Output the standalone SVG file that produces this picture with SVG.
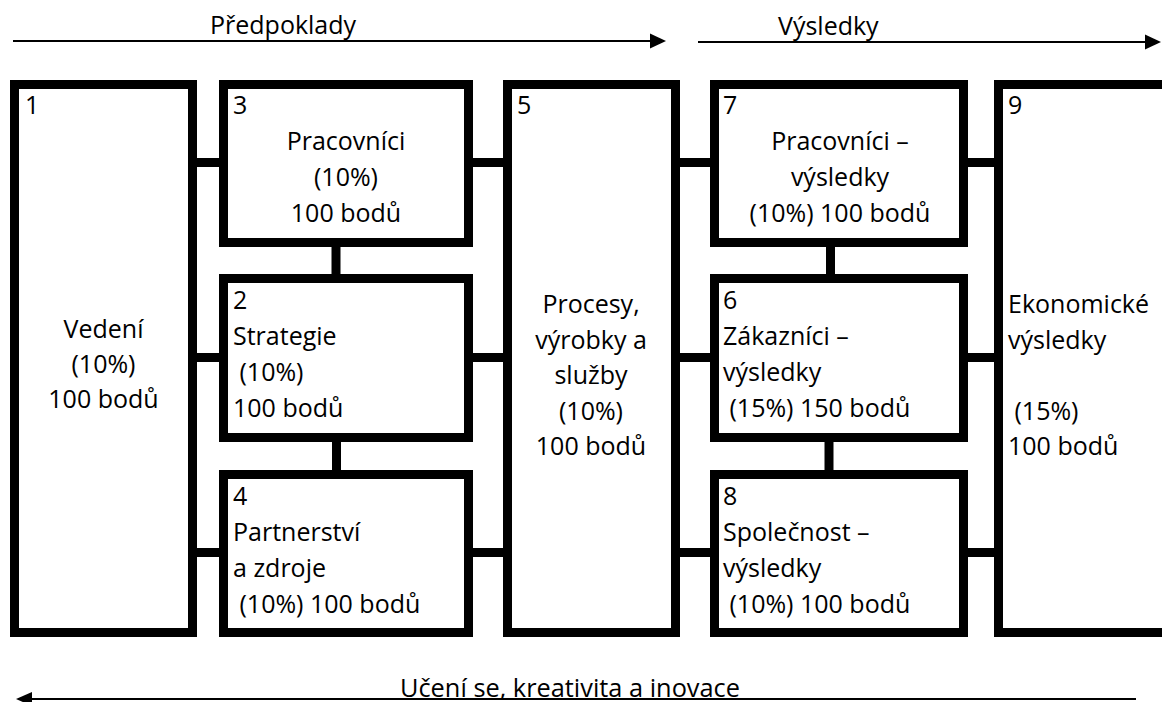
<svg xmlns="http://www.w3.org/2000/svg" width="1162" height="702" viewBox="0 0 1162 702">
<style>
.box{fill:#fff;stroke:#000;stroke-width:9}
.con{stroke:#000;stroke-width:9;fill:none}
.arr{stroke:#000;stroke-width:2;fill:none}
.head{fill:#000}
text{font-family:"Open Sans","Noto Sans","Liberation Sans",sans-serif;font-size:25px;fill:#000}
.c{text-anchor:middle}
</style>
<rect width="1162" height="702" fill="#fff"/>
<g id="arrows">
<line class="arr" x1="13" y1="41" x2="651" y2="41"/>
<polygon class="head" points="650,33.5 666,41 650,48.5"/>
<text x="210" y="34">Předpoklady</text>
<line class="arr" x1="698" y1="42" x2="1147" y2="42"/>
<polygon class="head" points="1145,34.5 1161,42 1145,49.5"/>
<text x="778" y="35">Výsledky</text>
<line class="arr" x1="31" y1="699" x2="1136" y2="699"/>
<polygon class="head" points="32,692 16,699 32,706"/>
<text x="400" y="697" textLength="340" lengthAdjust="spacingAndGlyphs">Učení se, kreativita a inovace</text>
</g>
<g id="connectors">
<line class="con" x1="197" y1="162.5" x2="219" y2="162.5"/>
<line class="con" x1="197" y1="357.5" x2="219" y2="357.5"/>
<line class="con" x1="197" y1="552.5" x2="219" y2="552.5"/>
<line class="con" x1="473" y1="162.5" x2="503" y2="162.5"/>
<line class="con" x1="473" y1="357.5" x2="503" y2="357.5"/>
<line class="con" x1="473" y1="552.5" x2="503" y2="552.5"/>
<line class="con" x1="680" y1="162.5" x2="710" y2="162.5"/>
<line class="con" x1="680" y1="357.5" x2="710" y2="357.5"/>
<line class="con" x1="680" y1="552.5" x2="710" y2="552.5"/>
<line class="con" x1="968" y1="162.5" x2="994" y2="162.5"/>
<line class="con" x1="968" y1="357.5" x2="994" y2="357.5"/>
<line class="con" x1="968" y1="552.5" x2="994" y2="552.5"/>
<line class="con" x1="336" y1="247" x2="336" y2="274"/>
<line class="con" x1="336.5" y1="442" x2="336.5" y2="470"/>
<line class="con" x1="830.5" y1="247" x2="830.5" y2="274"/>
<line class="con" x1="829" y1="442" x2="829" y2="470"/>
</g>
<g id="node1">
<rect class="box" x="14.5" y="84.5" width="178" height="548"/>
<text x="25" y="114">1</text>
<text class="c" x="103.5" y="338">Vedení</text>
<text class="c" x="103.5" y="373">(10%)</text>
<text class="c" x="103.5" y="408">100 bodů</text>
</g>
<g id="node3">
<rect class="box" x="223.5" y="84.5" width="245" height="158"/>
<text x="233" y="114">3</text>
<text class="c" x="346" y="150">Pracovníci</text>
<text class="c" x="346" y="186">(10%)</text>
<text class="c" x="346" y="222">100 bodů</text>
</g>
<g id="node2">
<rect class="box" x="223.5" y="278.5" width="245" height="159"/>
<text x="233" y="309">2</text>
<text x="233" y="345">Strategie</text>
<text x="233" y="381" xml:space="preserve"> (10%)</text>
<text x="233" y="417">100 bodů</text>
</g>
<g id="node4">
<rect class="box" x="223.5" y="474.5" width="245" height="158"/>
<text x="233" y="505">4</text>
<text x="233" y="541">Partnerství</text>
<text x="233" y="577">a zdroje</text>
<text x="233" y="613" xml:space="preserve"> (10%) 100 bodů</text>
</g>
<g id="node5">
<rect class="box" x="507.5" y="84.5" width="168" height="548"/>
<text x="517" y="114">5</text>
<text class="c" x="591" y="313">Procesy,</text>
<text class="c" x="591" y="348.5">výrobky a</text>
<text class="c" x="591" y="384">služby</text>
<text class="c" x="591" y="419.5">(10%)</text>
<text class="c" x="591" y="455">100 bodů</text>
</g>
<g id="node7">
<rect class="box" x="714.5" y="84.5" width="249" height="158"/>
<text x="723" y="114">7</text>
<text class="c" x="840" y="150">Pracovníci –</text>
<text class="c" x="840" y="186">výsledky</text>
<text class="c" x="840" y="222">(10%) 100 bodů</text>
</g>
<g id="node6">
<rect class="box" x="714.5" y="278.5" width="249" height="159"/>
<text x="723" y="309">6</text>
<text x="723" y="345">Zákazníci –</text>
<text x="723" y="381">výsledky</text>
<text x="723" y="417" xml:space="preserve"> (15%) 150 bodů</text>
</g>
<g id="node8">
<rect class="box" x="714.5" y="474.5" width="249" height="158"/>
<text x="723" y="505">8</text>
<text x="723" y="541">Společnost –</text>
<text x="723" y="577">výsledky</text>
<text x="723" y="613" xml:space="preserve"> (10%) 100 bodů</text>
</g>
<g id="node9">
<rect class="box" x="998.5" y="84.5" width="200" height="548"/>
<text x="1008" y="114">9</text>
<text x="1008" y="313">Ekonomické</text>
<text x="1008" y="348.5">výsledky</text>
<text x="1008" y="419.5" xml:space="preserve"> (15%)</text>
<text x="1008" y="455">100 bodů</text>
</g>
</svg>
